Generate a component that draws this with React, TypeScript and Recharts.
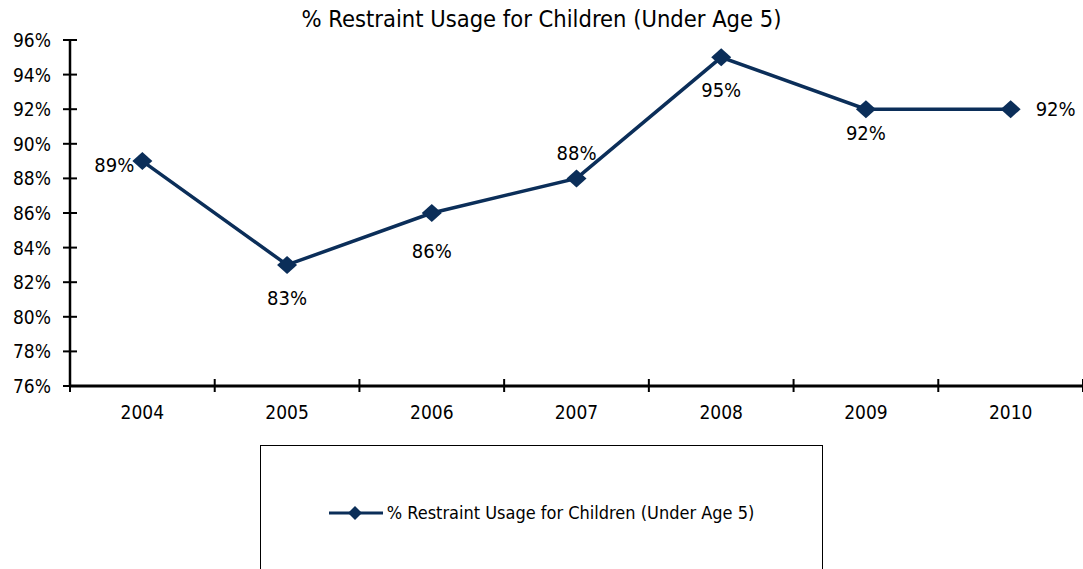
import React from "react";
import { LineChart, Line, XAxis, YAxis, Legend, LabelList } from "recharts";

const years = ["2004", "2005", "2006", "2007", "2008", "2009", "2010"];
const usage = [89, 83, 86, 88, 95, 92, 92];
const yTicks = [76, 78, 80, 82, 84, 86, 88, 90, 92, 94, 96];
const seriesName = "% Restraint Usage for Children (Under Age 5)";

const NAVY = "#0b2e59";
const FONT = "'Liberation Sans Narrow', 'Arial Narrow', 'DejaVu Sans Condensed', sans-serif";

const W = 1083;
const H = 569;
const PLOT_LEFT = 70;
const HALF_BAND = (W - PLOT_LEFT) / years.length / 2;

// where each data label sits relative to its point
const labelSide = ["left", "below", "below", "above", "below", "below", "right"];

const data = years.map((year, i) => ({ year, value: usage[i] }));

const Diamond = (props: any) => {
  const { cx, cy } = props;
  if (cx == null || cy == null) return null;
  return (
    <polygon
      points={`${cx},${cy - 9} ${cx + 10},${cy} ${cx},${cy + 9} ${cx - 10},${cy}`}
      fill={NAVY}
    />
  );
};

const XTick = (props: any) => {
  const { x, y, payload, index } = props;
  const axisY = y - 8;
  return (
    <g>
      <line x1={x - HALF_BAND} x2={x - HALF_BAND} y1={axisY - 7} y2={axisY + 6} stroke="#000" strokeWidth={2} />
      {index === years.length - 1 && (
        <line x1={x + HALF_BAND} x2={x + HALF_BAND} y1={axisY - 7} y2={axisY + 6} stroke="#000" strokeWidth={2} />
      )}
      <text x={x} y={axisY + 33} textAnchor="middle" fontSize={19} fontFamily={FONT} fill="#000">
        {payload.value}
      </text>
    </g>
  );
};

const YTick = (props: any) => {
  const { y, payload } = props;
  return (
    <g>
      <line x1={PLOT_LEFT - 7} x2={PLOT_LEFT + 7} y1={y} y2={y} stroke="#000" strokeWidth={2} />
      <text x={51} y={y + 7} textAnchor="end" fontSize={19} fontFamily={FONT} fill="#000">
        {`${payload.value}%`}
      </text>
    </g>
  );
};

const PointLabel = (props: any) => {
  const { x, y, value, index } = props;
  const side = labelSide[index];
  let tx = x;
  let ty = y + 7;
  let anchor: "start" | "middle" | "end" = "middle";
  if (side === "left") {
    tx = x - 8;
    ty = y + 11;
    anchor = "end";
  } else if (side === "right") {
    tx = x + 25;
    ty = y + 7;
    anchor = "start";
  } else if (side === "below") {
    ty = y + (index === 2 ? 45 : index === 5 ? 31 : 40);
  } else {
    ty = y - 18;
  }
  return (
    <text x={tx} y={ty} textAnchor={anchor} fontSize={20} fontFamily={FONT} fill="#000">
      {`${value}%`}
    </text>
  );
};

const LegendBox = () => (
  <div
    style={{
      display: "flex",
      alignItems: "center",
      justifyContent: "center",
      height: "100%",
      fontFamily: FONT,
      fontSize: 18,
      color: "#000",
    }}
  >
    <svg width={54} height={20} style={{ marginRight: 4 }}>
      <line x1={0} x2={54} y1={10} y2={10} stroke={NAVY} strokeWidth={3} />
      <polygon points="26,3 33,10 26,17 19,10" fill={NAVY} />
    </svg>
    <span>{seriesName}</span>
  </div>
);

export default function App() {
  return (
    <div style={{ position: "absolute", left: 0, top: 0, width: W, height: H, background: "#fff" }}>
      <div
        style={{
          position: "absolute",
          left: 0,
          top: 5,
          width: W,
          textAlign: "center",
          fontFamily: FONT,
          fontSize: 23.5,
          color: "#000",
          zIndex: 2,
        }}
      >
        {seriesName}
      </div>
      <LineChart width={W} height={H} data={data} margin={{ top: 40, right: 0, bottom: 153, left: 0 }}>
        <XAxis
          dataKey="year"
          height={30}
          padding={{ left: HALF_BAND, right: HALF_BAND }}
          axisLine={{ stroke: "#000", strokeWidth: 3 }}
          tickLine={false}
          tick={<XTick />}
          interval={0}
        />
        <YAxis
          width={PLOT_LEFT}
          domain={[76, 96]}
          ticks={yTicks}
          interval={0}
          axisLine={{ stroke: "#000", strokeWidth: 2.5 }}
          tickLine={false}
          tick={<YTick />}
        />
        <Legend
          layout="horizontal"
          verticalAlign="middle"
          align="center"
          wrapperStyle={{
            left: 260,
            top: 445,
            width: 563,
            height: 135,
            border: "1.5px solid #000",
            boxSizing: "border-box",
            background: "#fff",
          }}
          content={<LegendBox />}
        />
        <Line
          type="linear"
          dataKey="value"
          name={seriesName}
          stroke={NAVY}
          strokeWidth={3.5}
          dot={<Diamond />}
          activeDot={false}
          isAnimationActive={false}
        >
          <LabelList dataKey="value" content={<PointLabel />} />
        </Line>
      </LineChart>
    </div>
  );
}
